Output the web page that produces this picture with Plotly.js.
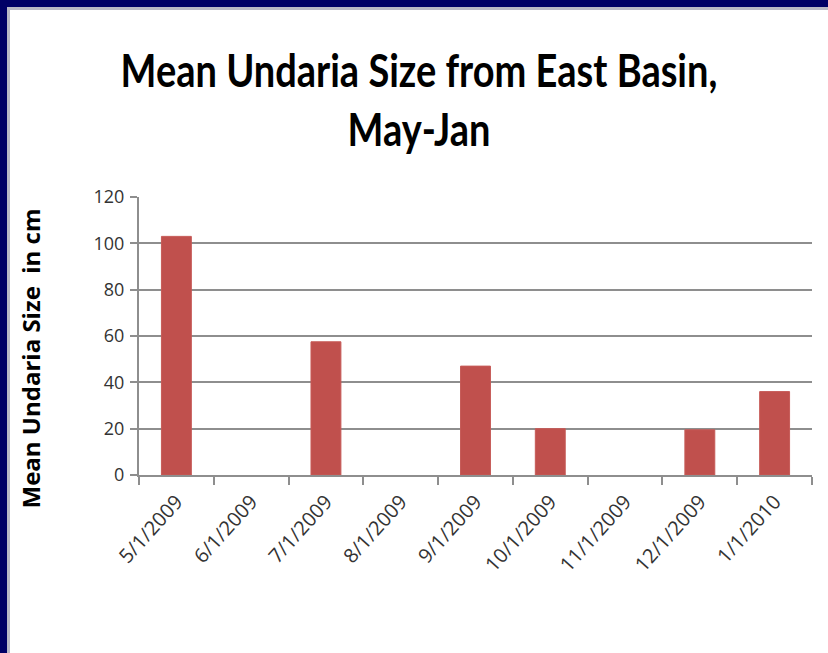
<!DOCTYPE html>
<html>
<head>
<meta charset="utf-8">
<script src="https://cdn.plot.ly/plotly-3.0.1.min.js"></script>
<style>
  html, body { margin: 0; padding: 0; width: 828px; height: 653px; overflow: hidden; background: #000066; }
  #frame { position: absolute; left: 7px; top: 7px; width: 821px; height: 646px; background: #ffffff;
           box-sizing: border-box; border-left: 3px solid #b9b9c6; border-top: 3px solid #b9b9c6; }
  #chart { width: 818px; height: 643px; }
  .gtitle { transform-box: fill-box; transform-origin: center; transform: scaleY(1.2); }
  .ytitle { transform-box: fill-box; transform-origin: center; transform: translate(-38px, 32px) rotate(-90deg); }
</style>
</head>
<body>
<div id="frame"><div id="chart"></div></div>
<script>
const categories = ["5/1/2009", "6/1/2009", "7/1/2009", "8/1/2009", "9/1/2009", "10/1/2009", "11/1/2009", "12/1/2009", "1/1/2010"];
const meanSize = [103, null, 57.5, null, 47, 20, null, 19.5, 36];
const yTicks = [0, 20, 40, 60, 80, 100, 120];
const chartTitle = "Mean Undaria Size from East Basin,<br>May-Jan";
const yTitle = "Mean Undaria Size  in cm";

const trace = {
  type: "bar",
  x: categories,
  y: meanSize,
  marker: { color: "#c0504d", line: { color: "#c65a57", width: 1 } },
  hoverinfo: "x+y"
};

const layout = {
  width: 818,
  height: 643,
  paper_bgcolor: "#ffffff",
  plot_bgcolor: "#ffffff",
  margin: { l: 129, r: 16, t: 187, b: 178 },
  bargap: 0.6,
  showlegend: false,
  title: {
    text: chartTitle,
    font: { family: "Lato, 'Open Sans', sans-serif", size: 38, color: "#000000", weight: "bold" },
    x: 0.5, xref: "container", xanchor: "center",
    y: 1 - 79 / 643, yref: "container", yanchor: "top"
  },
  xaxis: {
    type: "category",
    categoryorder: "array",
    categoryarray: categories,
    tickangle: -48,
    tickson: "boundaries",
    ticks: "outside",
    ticklen: 8,
    tickwidth: 2,
    tickcolor: "#8e8e8e",
    showline: true,
    linecolor: "#8e8e8e",
    linewidth: 2,
    showgrid: false,
    zeroline: false,
    ticklabelstandoff: 5,
    tickfont: { family: "'Open Sans', sans-serif", size: 20, color: "#333333" }
  },
  yaxis: {
    range: [0, 120],
    tickvals: yTicks,
    ticktext: yTicks.map(String),
    ticks: "outside",
    ticklen: 7,
    tickwidth: 2,
    tickcolor: "#8e8e8e",
    showline: true,
    linecolor: "#8e8e8e",
    linewidth: 2,
    showgrid: true,
    gridcolor: "#8e8e8e",
    gridwidth: 2,
    zeroline: false,
    ticklabelstandoff: 2,
    tickfont: { family: "'Open Sans', sans-serif", size: 18, color: "#333333" },
    title: {
      text: yTitle,
      font: { family: "'Open Sans', sans-serif", size: 24, color: "#000000", weight: "bold" },
      standoff: 18
    }
  }
};

Plotly.newPlot("chart", [trace], layout, { displayModeBar: false, staticPlot: true });
</script>
</body>
</html>
